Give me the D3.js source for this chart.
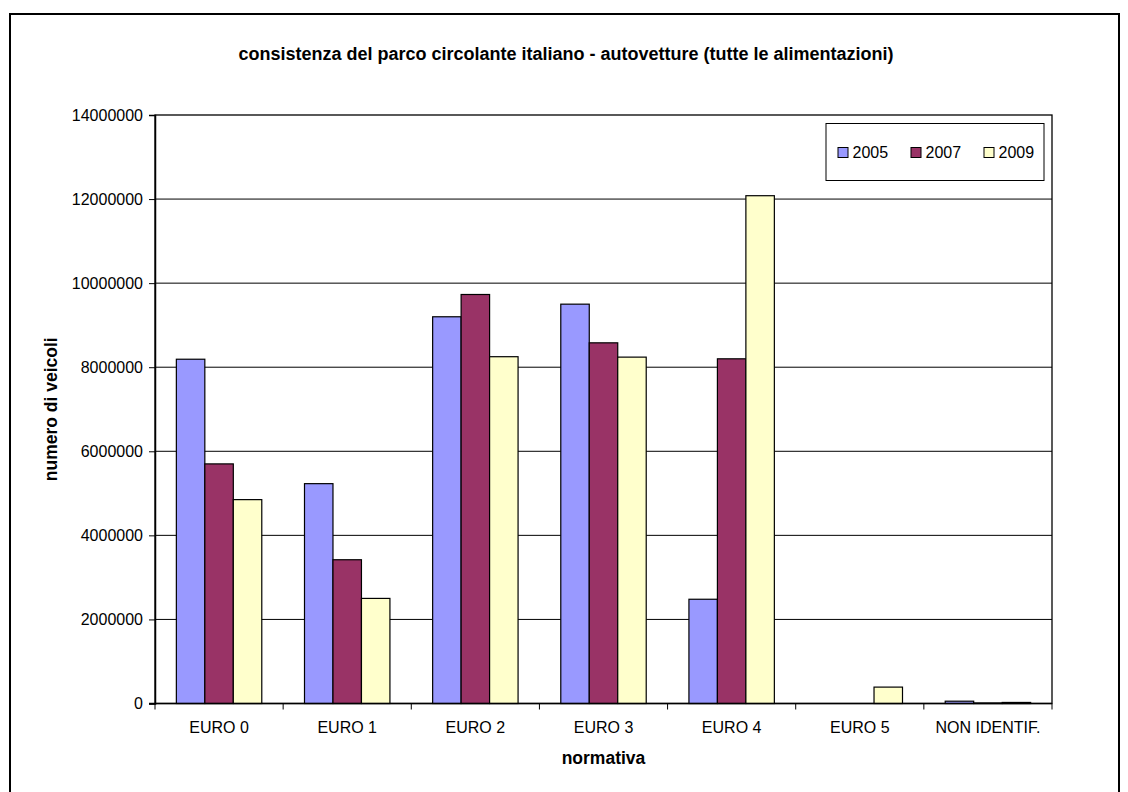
<!DOCTYPE html>
<html>
<head>
<meta charset="utf-8">
<script src="https://cdn.jsdelivr.net/npm/d3@7/dist/d3.min.js"></script>
<style>
  html, body { margin: 0; padding: 0; background: #fff; }
  svg text { font-family: "Liberation Sans", Arial, sans-serif; fill: #000; }
</style>
</head>
<body>
<svg id="chart" width="1128" height="792"></svg>
<script>
// Euro emission classes and registered cars per year
const categories = ["EURO 0", "EURO 1", "EURO 2", "EURO 3", "EURO 4", "EURO 5", "NON IDENTIF."];
const years = ["2005", "2007", "2009"];
const values2005 = [8190000, 5230000, 9200000, 9500000, 2480000, 0, 55000];
const values2007 = [5700000, 3420000, 9730000, 8580000, 8200000, 0, 12000];
const values2009 = [4850000, 2500000, 8250000, 8240000, 12080000, 390000, 25000];
const yTicks = [0, 2000000, 4000000, 6000000, 8000000, 10000000, 12000000, 14000000];
const colors = ["#9999FF", "#993366", "#FFFFCC"];

const series = [values2005, values2007, values2009];

const svg = d3.select("#chart");

// outer chart frame
svg.append("rect")
  .attr("x", 10).attr("y", 14)
  .attr("width", 1109).attr("height", 800)
  .attr("fill", "#fff").attr("stroke", "#000").attr("stroke-width", 2);

const plot = { left: 155, right: 1052, top: 115, bottom: 703.5 };

const x = d3.scaleBand().domain(categories).range([plot.left, plot.right]).paddingInner(0).paddingOuter(0);
// 3 bars plus a 150% gap per category
const xInner = d3.scaleBand().domain(years).range([0, x.bandwidth()]).paddingInner(0).paddingOuter(0.75);
const y = d3.scaleLinear().domain([0, 14000000]).range([plot.bottom, plot.top]);

// horizontal gridlines
svg.append("g")
  .selectAll("line")
  .data(yTicks.filter(t => t > 0 && t < 14000000))
  .join("line")
  .attr("x1", plot.left).attr("x2", plot.right)
  .attr("y1", d => y(d)).attr("y2", d => y(d))
  .attr("stroke", "#000").attr("stroke-width", 1);

// plot area frame
svg.append("rect")
  .attr("x", plot.left).attr("y", plot.top)
  .attr("width", plot.right - plot.left).attr("height", plot.bottom - plot.top)
  .attr("fill", "none").attr("stroke", "#000").attr("stroke-width", 1.3);

// bars
const groups = svg.append("g").selectAll("g")
  .data(categories)
  .join("g")
  .attr("transform", d => `translate(${x(d)},0)`);

groups.selectAll("rect")
  .data((c, i) => years.map((yr, k) => ({ yr, k, v: series[k][i] })))
  .join("rect")
  .filter(d => d.v > 0)
  .attr("x", d => xInner(d.yr))
  .attr("width", xInner.bandwidth())
  .attr("y", d => y(d.v))
  .attr("height", d => y(0) - y(d.v))
  .attr("fill", d => colors[d.k])
  .attr("stroke", "#000").attr("stroke-width", 1.2);

// y axis
const yAxis = d3.axisLeft(y).tickValues(yTicks).tickFormat(d3.format("d")).tickSize(6).tickPadding(6);
const gy = svg.append("g").attr("transform", `translate(${plot.left},0)`).call(yAxis);
gy.select(".domain").attr("stroke", "#000").attr("stroke-width", 1.5);
gy.selectAll(".tick line").attr("stroke", "#000");
gy.selectAll(".tick text").attr("font-size", 16).style("font-family", '"Liberation Sans", Arial, sans-serif');

// x axis: ticks at category boundaries
const xAxisG = svg.append("g").attr("transform", `translate(0,${plot.bottom})`);
xAxisG.append("line")
  .attr("x1", plot.left - 6).attr("x2", plot.right)
  .attr("stroke", "#000").attr("stroke-width", 1.5);
const bounds = categories.map(c => x(c)).concat([plot.right]);
xAxisG.selectAll("line.tick")
  .data(bounds)
  .join("line")
  .attr("class", "tick")
  .attr("x1", d => d).attr("x2", d => d)
  .attr("y1", 0).attr("y2", 6)
  .attr("stroke", "#000");
xAxisG.selectAll("text")
  .data(categories)
  .join("text")
  .attr("x", d => x(d) + x.bandwidth() / 2)
  .attr("y", 29.5)
  .attr("text-anchor", "middle")
  .attr("font-size", 16)
  .text(d => d);

// titles
svg.append("text")
  .attr("x", 566).attr("y", 59.5)
  .attr("text-anchor", "middle")
  .attr("font-size", 18).attr("font-weight", "bold")
  .text("consistenza del parco circolante italiano - autovetture (tutte le alimentazioni)");

svg.append("text")
  .attr("x", x("EURO 3") + x.bandwidth() / 2).attr("y", 764)
  .attr("text-anchor", "middle")
  .attr("font-size", 17.5).attr("font-weight", "bold")
  .text("normativa");

svg.append("text")
  .attr("transform", `translate(57,${(plot.top + plot.bottom) / 2}) rotate(-90)`)
  .attr("text-anchor", "middle")
  .attr("font-size", 17.5).attr("font-weight", "bold")
  .text("numero di veicoli");

// legend
const legend = svg.append("g");
legend.append("rect")
  .attr("x", 826).attr("y", 123.5)
  .attr("width", 218).attr("height", 57)
  .attr("fill", "#fff").attr("stroke", "#000").attr("stroke-width", 1);
const legendX = [838, 911, 984];
const items = legend.selectAll("g.item")
  .data(years)
  .join("g")
  .attr("class", "item")
  .attr("transform", (d, i) => `translate(${legendX[i]},0)`);
items.append("rect")
  .attr("x", 0).attr("y", 147.5)
  .attr("width", 10).attr("height", 10)
  .attr("fill", (d, i) => colors[i])
  .attr("stroke", "#000").attr("stroke-width", 1);
items.append("text")
  .attr("x", 14.5).attr("y", 158)
  .attr("font-size", 16)
  .text(d => d);
</script>
</body>
</html>
